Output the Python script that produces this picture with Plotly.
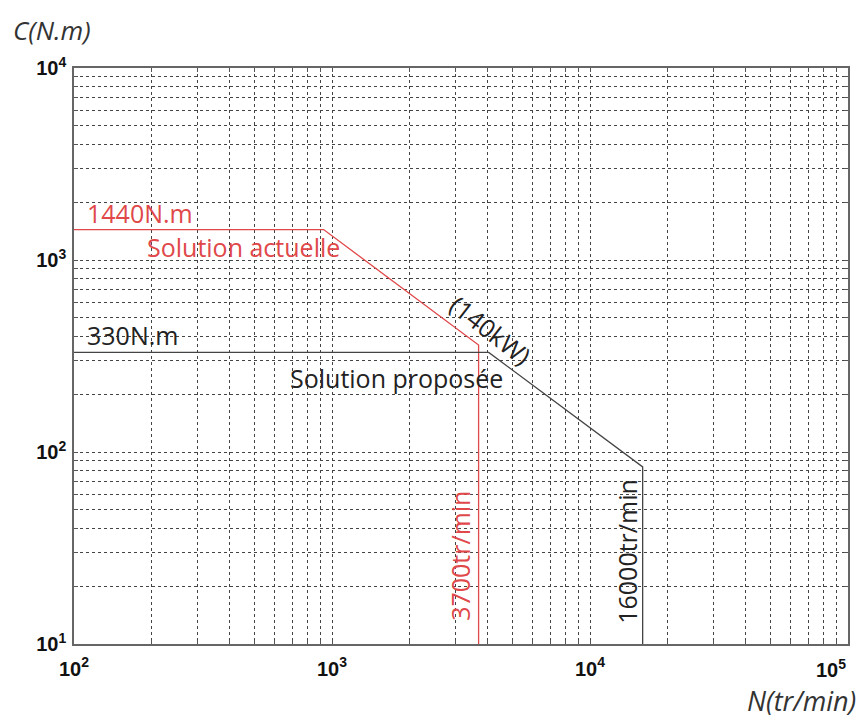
import plotly.graph_objects as go

# Courbes couple / vitesse
actuelle_n = [100, 928, 3700, 3700]
actuelle_c = [1440, 1440, 361, 10]
proposee_n = [100, 4050, 16000, 16000]
proposee_c = [330, 330, 83.6, 10]

x_ticks = [k * 10 ** e for e in range(2, 5) for k in range(1, 10)] + [1e5]
y_ticks = [k * 10 ** e for e in range(1, 4) for k in range(1, 10)] + [1e4]
x_labels = ["<b>10<sup>%d</sup></b>" % e if k == 1 else "" for e in range(2, 5) for k in range(1, 10)] + [""]
y_labels = ["<b>10<sup>%d</sup></b>" % e if k == 1 else "" for e in range(1, 4) for k in range(1, 10)] + ["<b>10<sup>4</sup></b>"]
last_x_label = "<b>10<sup>5</sup></b>"

RED = "#e0484a"
DARK = "#444444"
TXT = "Open Sans"
TICKFONT = dict(family="Liberation Sans", size=20, color="#111")

# the page body adds an 8 px margin, so the figure is 8 px smaller than the window
W, H = 858, 712
L, R, T, B = 66, 18, 60, 76

fig = go.Figure()
fig.add_trace(go.Scatter(x=actuelle_n, y=actuelle_c, mode="lines", line=dict(color=RED, width=1.3), showlegend=False))
fig.add_trace(go.Scatter(x=proposee_n, y=proposee_c, mode="lines", line=dict(color=DARK, width=1.3), showlegend=False))

axis_common = dict(
    type="log",
    tickmode="array",
    ticks="inside",
    ticklen=4,
    tickcolor="#555",
    showline=True,
    linecolor="#666",
    linewidth=1.5,
    mirror="ticks",
    showgrid=True,
    gridcolor="#444",
    griddash="dot",
    gridwidth=1,
    zeroline=False,
    automargin=False,
    tickfont=TICKFONT,
)
fig.update_xaxes(range=[2, 5], tickvals=x_ticks, ticktext=x_labels, ticklabelstandoff=6, **axis_common)
fig.update_yaxes(range=[1, 4], tickvals=y_ticks, ticktext=y_labels, ticklabelstandoff=2, **axis_common)

# last x label sits left of its tick in the original
fig.add_annotation(text=last_x_label, x=5, y=0, xref="x", yref="paper", xanchor="right", yanchor="middle",
                   yshift=-24, showarrow=False, font=TICKFONT)


def note(text, x, y, color, xanchor="left", angle=0):
    fig.add_annotation(
        text=text, x=x, y=y, xref="x", yref="y", showarrow=False,
        xanchor=xanchor, yanchor="middle", textangle=angle,
        font=dict(family=TXT, size=25, color=color),
    )


note("1440N.m", 2.043, 3.243, RED)
note("Solution actuelle", 2.275, 3.066, RED)
note("330N.m", 2.043, 2.612, "#222")
note("Solution proposée", 2.829, 2.388, "#222")
note("(140kW)", 3.616, 2.638, "#222", xanchor="center", angle=38)
note("3700tr/min", 3.496, 1.459, RED, xanchor="center", angle=-90)
note("16000tr/min", 4.143, 1.485, "#222", xanchor="center", angle=-90)

pw, ph = W - L - R, H - T - B
fig.add_annotation(text="<i>C(N.m)</i>", x=(3 - L) / pw, y=(H - B - 22) / ph, xref="paper", yref="paper",
                   xanchor="left", yanchor="middle", showarrow=False,
                   font=dict(family=TXT, size=26, color="#333"))
fig.add_annotation(text="<i>N(tr/min)</i>", x=(W - 8 - L) / pw, y=(H - B - 692) / ph, xref="paper", yref="paper",
                   xanchor="right", yanchor="middle", showarrow=False,
                   font=dict(family=TXT, size=27, color="#333"))

fig.update_layout(
    width=W,
    height=H,
    margin=dict(l=L, r=R, t=T, b=B),
    paper_bgcolor="white",
    plot_bgcolor="white",
    showlegend=False,
)

fig.write_html("out.html")
